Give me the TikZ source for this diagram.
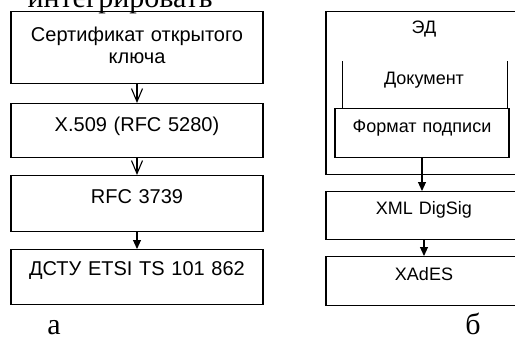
\documentclass[tikz,border=0pt]{standalone}
\usepackage{fontspec}
\setmainfont{Liberation Serif}
\setsansfont{Liberation Sans}
\usetikzlibrary{arrows.meta}

\begin{document}
\begin{tikzpicture}[x=1pt, y=-1pt,
    box/.style={draw, line width=1.1pt, inner sep=0pt, anchor=north, align=center,
      font=\sffamily\fontsize{20}{22}\selectfont},
    smallbox/.style={box, font=\sffamily\fontsize{18}{21}\selectfont},
    txt/.style={inner sep=0pt, anchor=base, font=\sffamily\fontsize{18}{21}\selectfont},
    lbl/.style={inner sep=0pt, anchor=base, font=\fontsize{30}{36}\selectfont},
    open tip/.style={line width=1.1pt, -{Straight Barb[length=13pt,width=11pt,line width=1.1pt]}},
    solid tip/.style={line width=1.1pt, -{Triangle[length=9pt,width=8pt]}}]
    \useasboundingbox (0,0) rectangle (515,338);
    \begin{scope}
      \clip (0,0) rectangle (515,338);
      % word of the text line above, cut by the page edge
      \node[lbl] (word) at (120,7) {интегрировать};
      % a: certificate chain
      \node[box, text width=252pt, text height=30pt, text depth=42pt] (cert) at (137,11)
        {Сертификат открытого\\ключа};
      \node[box, text width=252pt, text height=28pt, text depth=26pt] (x509) at (137,103)
        {X.509 (RFC 5280)};
      \node[box, text width=252pt, text height=28pt, text depth=28pt] (rfc) at (137,175)
        {RFC 3739};
      \node[box, text width=252pt, text height=26pt, text depth=29pt] (dstu) at (137,249)
        {ДСТУ ETSI TS 101 862};
      \draw[open tip] (cert.south) -- (x509.north);
      \draw[open tip] (x509.south) -- (rfc.north);
      \draw[solid tip] (rfc.south) -- (dstu.north);
      % b: signed document
      \node[smallbox, text width=196pt, text height=22pt, text depth=141pt] (ed) at (424,11) {ЭД};
      \node[txt] (doc) at (424,84) {Документ};
      \node[smallbox, text width=174pt, text height=24pt, text depth=25pt] (fmt) at (422,108)
        {Формат подписи};
      \draw[line width=1.1pt] ([xshift=8pt]fmt.north west) -- ++(0,-47);
      \draw[line width=1.1pt] ([xshift=-2pt]fmt.north east) -- ++(0,-47);
      \node[smallbox, text width=196pt, text height=23pt, text depth=25pt] (xml) at (424,191)
        {XML DigSig};
      \node[smallbox, text width=196pt, text height=24pt, text depth=25pt] (xades) at (424,256)
        {XAdES};
      \draw[solid tip] (fmt.south) -- (fmt.south |- xml.north);
      \draw[solid tip] (xml.south) -- (xades.north);
    \end{scope}
    \node[lbl] (la) at (54,334) {а};
    \node[lbl] (lb) at (473,334) {б};
  \end{tikzpicture}
\end{document}
